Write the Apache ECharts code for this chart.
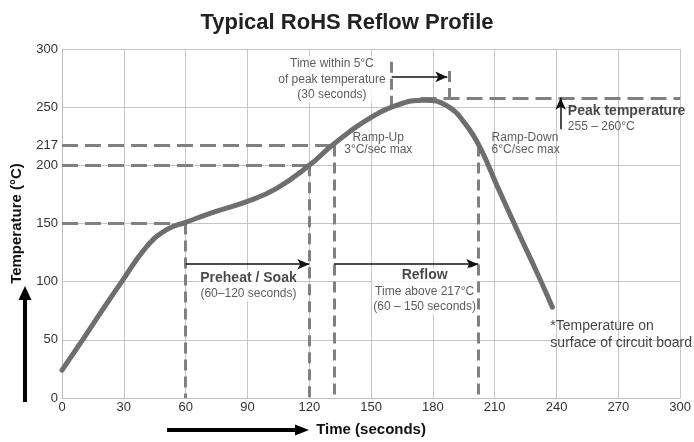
<!DOCTYPE html>
<html>
<head>
<meta charset="utf-8">
<script src="https://cdn.jsdelivr.net/npm/echarts@6/dist/echarts.min.js"></script>
<style>
html,body{margin:0;padding:0;background:#fff;}
#main{width:694px;height:442px;}
</style>
</head>
<body>
<div id="main"></div>
<script>
// profile curve (seconds, deg C)
var times = [0, 10, 19, 29, 41, 51, 60, 74, 90, 104, 120, 131, 147, 163, 176, 187, 196, 203, 211, 221, 231, 238];
var temps = [24, 50, 74, 100, 130, 145, 151, 160, 169, 180, 200, 217, 238, 252, 256, 251, 235, 215, 183, 144, 106, 78];

// axis labels
var yLabels = [0, 50, 100, 150, 200, 217, 250, 300];

// guide levels
var soakLow = 150, soakHigh = 200, liquidus = 217, peakLevel = 258;
var soakStart = 60, soakEnd = 120, reflowStart = 132, reflowEnd = 202;
var peakWin = [160, 188];
var peakWinTop = [289, 281];
var peakWinBottom = [250, 251];

var font = "'Liberation Sans',Arial,sans-serif";

var profile = [];
for (var i = 0; i < times.length; i++) {
    profile.push([times[i], temps[i]]);
}

var hDash = {color: '#808080', width: 3, type: [16, 7]};
var vDash = {color: '#808080', width: 3, type: [11, 6]};

function seg(a, b, style) {
    return [{coord: a, lineStyle: style}, {coord: b}];
}

var guides = [
    seg([0, soakLow], [soakStart, soakLow], hDash),
    seg([0, soakHigh], [soakEnd, soakHigh], hDash),
    seg([0, liquidus], [reflowStart, liquidus], hDash),
    seg([174, peakLevel], [300, peakLevel], hDash),
    seg([soakStart, soakLow], [soakStart, 0], vDash),
    seg([soakEnd, soakHigh], [soakEnd, 0], vDash),
    seg([reflowStart, liquidus], [reflowStart, 0], vDash),
    seg([reflowEnd, liquidus], [reflowEnd, 0], vDash),
    seg([peakWin[0], peakWinTop[0]], [peakWin[0], peakWinBottom[0]], vDash),
    seg([peakWin[1], peakWinTop[1]], [peakWin[1], peakWinBottom[1]], vDash)
];

var arrows = [
    [{coord: [soakStart, 115]}, {coord: [soakEnd, 115]}],
    [{coord: [reflowStart, 115]}, {coord: [reflowEnd, 115]}],
    [{coord: [peakWin[0], 276]}, {coord: [peakWin[1] - 1, 276]}],
    [{coord: [242, 231]}, {coord: [242, 258]}]
];

var rich = {
    n: {fontFamily: font, fontSize: 12, color: '#333', lineHeight: 15.5},
    r: {fontFamily: font, fontSize: 12, color: '#333', lineHeight: 12},
    b: {fontFamily: font, fontSize: 14, fontWeight: 'bold', color: '#1a1a1a', lineHeight: 16},
    f: {fontFamily: font, fontSize: 14, color: '#111', lineHeight: 16.5}
};

function note(x, y, text, pos, bg) {
    return {
        value: [x, y],
        label: {
            show: true,
            position: pos,
            distance: 0,
            formatter: text,
            align: pos === 'right' ? 'left' : 'center',
            backgroundColor: bg ? '#fff' : 'transparent',
            padding: bg ? [0, 1] : 0,
            rich: rich
        }
    };
}

var notes = [
    note(131, 274, '{n|Time within 5°C}\n{n|of peak temperature}\n{n|(30 seconds)}', 'inside', true),
    note(153.5, 219, '{r|Ramp-Up}\n{r|3°C/sec max}', 'inside', false),
    note(208.5, 219, '{r|Ramp-Down}\n{r|6°C/sec max}', 'right', false),
    note(245.5, 240, '{b|Peak temperature}\n{n|255 – 260°C}', 'right', false),
    note(90.5, 96.5, '{b|Preheat / Soak}\n{n|(60–120 seconds)}', 'inside', true),
    note(176, 92, '{b|Reflow}\n{n|Time above 217°C}\n{n|(60 – 150 seconds)}', 'inside', true),
    note(237, 54.5, '{f|*Temperature on}\n{f|surface of circuit board}', 'right', false)
];

var chart = echarts.init(document.getElementById('main'));
var option = {
    backgroundColor: '#fff',
    animation: false,
    title: {
        text: 'Typical RoHS Reflow Profile',
        left: 'center',
        top: 7,
        textStyle: {fontFamily: font, fontSize: 22, fontWeight: 'bold', color: '#222'}
    },
    grid: {left: 62, right: 10, top: 49, bottom: 40},
    xAxis: {
        type: 'value',
        min: 0,
        max: 300,
        interval: 30,
        name: 'Time (seconds)',
        nameLocation: 'middle',
        nameGap: 24,
        nameTextStyle: {fontFamily: font, fontSize: 15, fontWeight: 'bold', color: '#111'},
        axisLine: {show: true, lineStyle: {color: '#bdbdbd', width: 1}},
        axisTick: {show: false},
        axisLabel: {color: '#333', fontSize: 13, fontFamily: font, margin: 3},
        splitLine: {show: true, lineStyle: {color: '#c6c6c6', width: 1}}
    },
    yAxis: {
        type: 'value',
        min: 0,
        max: 300,
        interval: 50,
        name: 'Temperature (°C)',
        nameLocation: 'middle',
        nameRotate: 90,
        nameGap: 38,
        nameTextStyle: {fontFamily: font, fontSize: 15, fontWeight: 'bold', color: '#111'},
        axisLine: {show: true, lineStyle: {color: '#bdbdbd', width: 1}},
        axisTick: {show: false},
        axisLabel: {customValues: yLabels, color: '#333', fontSize: 13, fontFamily: font, margin: 4},
        splitLine: {show: true, lineStyle: {color: '#c6c6c6', width: 1}}
    },
    graphic: [
        {type: 'line', shape: {x1: 167, y1: 430, x2: 297, y2: 430}, style: {stroke: '#000', lineWidth: 4}},
        {type: 'polygon', shape: {points: [[295, 424.5], [309, 430], [295, 435.5]]}, style: {fill: '#000'}},
        {type: 'line', shape: {x1: 25, y1: 402, x2: 25, y2: 298}, style: {stroke: '#000', lineWidth: 4}},
        {type: 'polygon', shape: {points: [[18.5, 300], [25, 286], [31.5, 300]]}, style: {fill: '#000'}}
    ],
    series: [
        {
            type: 'line',
            name: 'guides',
            data: [],
            silent: true,
            markLine: {
                silent: true,
                z: 1,
                animation: false,
                symbol: 'none',
                label: {show: false},
                lineStyle: hDash,
                data: guides
            }
        },
        {
            type: 'line',
            name: 'profile',
            data: profile,
            smooth: 0.45,
            showSymbol: false,
            silent: true,
            z: 3,
            lineStyle: {color: '#6e6e6e', width: 5, cap: 'round'}
        },
        {
            type: 'line',
            name: 'arrows',
            data: [],
            silent: true,
            markLine: {
                silent: true,
                z: 4,
                animation: false,
                symbol: ['none', 'arrow'],
                symbolSize: [8, 12],
                label: {show: false},
                lineStyle: {color: '#111', width: 1.5, type: 'solid'},
                data: arrows
            }
        },
        {
            type: 'scatter',
            name: 'notes',
            data: notes,
            symbolSize: 0,
            silent: true,
            z: 6
        }
    ]
};
chart.setOption(option);
</script>
</body>
</html>
